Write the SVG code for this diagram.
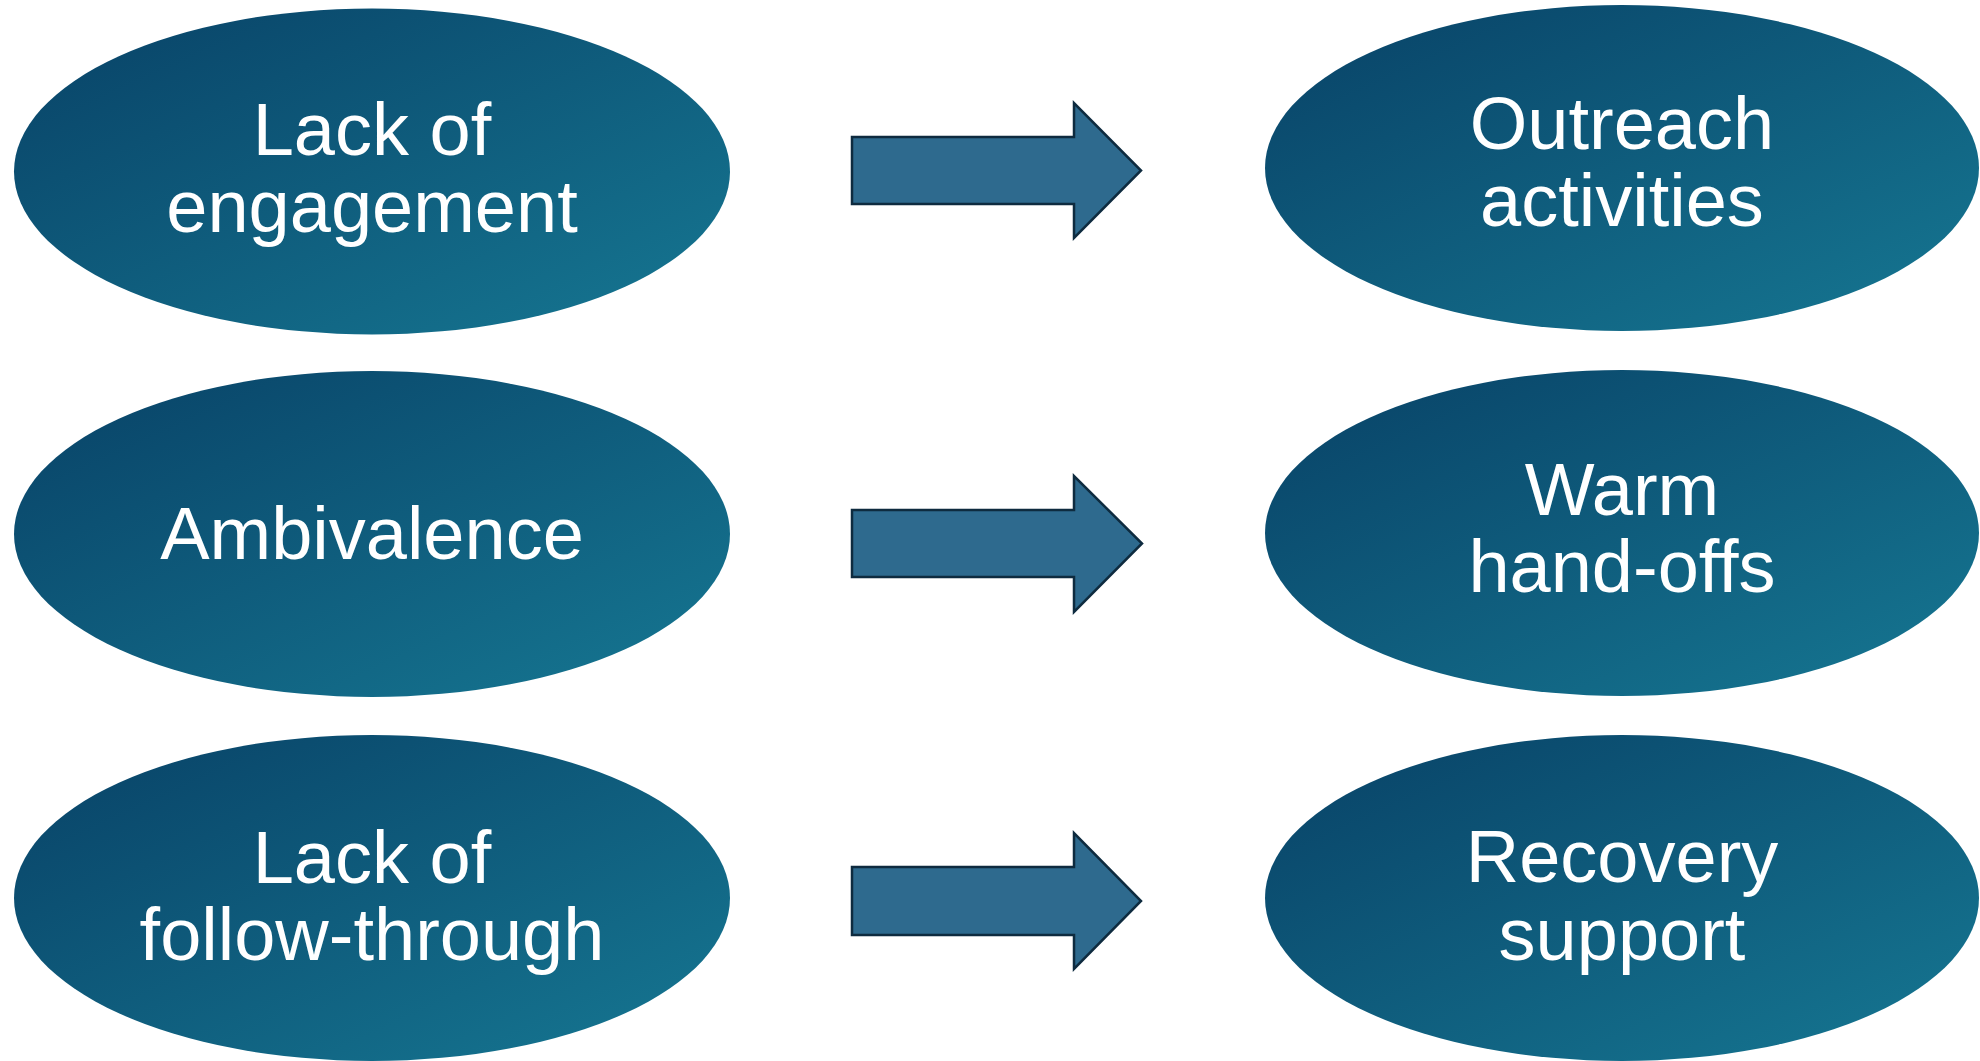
<svg xmlns="http://www.w3.org/2000/svg" width="1980" height="1061" viewBox="0 0 1980 1061">
  <defs>
    <linearGradient id="ovalGrad" x1="0" y1="0" x2="1" y2="1">
      <stop offset="0" stop-color="#084166"/>
      <stop offset="1" stop-color="#167893"/>
    </linearGradient>
    <style>
      .oval { fill: url(#ovalGrad); }
      .lbl { font-family: "Liberation Sans", Arial, sans-serif; font-size: 74px; fill: #ffffff; text-anchor: middle; }
      .arrow { fill: #2e6a8e; stroke: #0e2b3f; stroke-width: 2.5; stroke-linejoin: miter; }
    </style>
  </defs>
  <rect width="1980" height="1061" fill="#ffffff"/>

  <g id="node-lack-engagement">
    <ellipse class="oval" cx="372" cy="171.5" rx="358" ry="163"/>
    <text class="lbl" x="372" y="155">Lack of</text>
    <text class="lbl" x="372" y="232">engagement</text>
  </g>
  <g id="node-ambivalence">
    <ellipse class="oval" cx="372" cy="534" rx="358" ry="163"/>
    <text class="lbl" x="372" y="559">Ambivalence</text>
  </g>
  <g id="node-lack-follow-through">
    <ellipse class="oval" cx="372" cy="898" rx="358" ry="163"/>
    <text class="lbl" x="372" y="883">Lack of</text>
    <text class="lbl" x="372" y="960">follow-through</text>
  </g>

  <g id="node-outreach">
    <ellipse class="oval" cx="1622" cy="168" rx="357" ry="163"/>
    <text class="lbl" x="1622" y="149">Outreach</text>
    <text class="lbl" x="1622" y="226">activities</text>
  </g>
  <g id="node-warm-handoffs">
    <ellipse class="oval" cx="1622" cy="533" rx="357" ry="163"/>
    <text class="lbl" x="1622" y="515">Warm</text>
    <text class="lbl" x="1622" y="592">hand-offs</text>
  </g>
  <g id="node-recovery-support">
    <ellipse class="oval" cx="1622" cy="898" rx="357" ry="163"/>
    <text class="lbl" x="1622" y="882">Recovery</text>
    <text class="lbl" x="1622" y="960">support</text>
  </g>

  <g id="connectors">
    <path class="arrow" d="M852,137 L1074,137 L1074,103 L1141,170.5 L1074,238 L1074,204 L852,204 Z"/>
    <path class="arrow" d="M852,510 L1074,510 L1074,476 L1142,543.5 L1074,612 L1074,577 L852,577 Z"/>
    <path class="arrow" d="M852,867 L1074,867 L1074,833 L1141,901 L1074,969 L1074,935 L852,935 Z"/>
  </g>
</svg>
